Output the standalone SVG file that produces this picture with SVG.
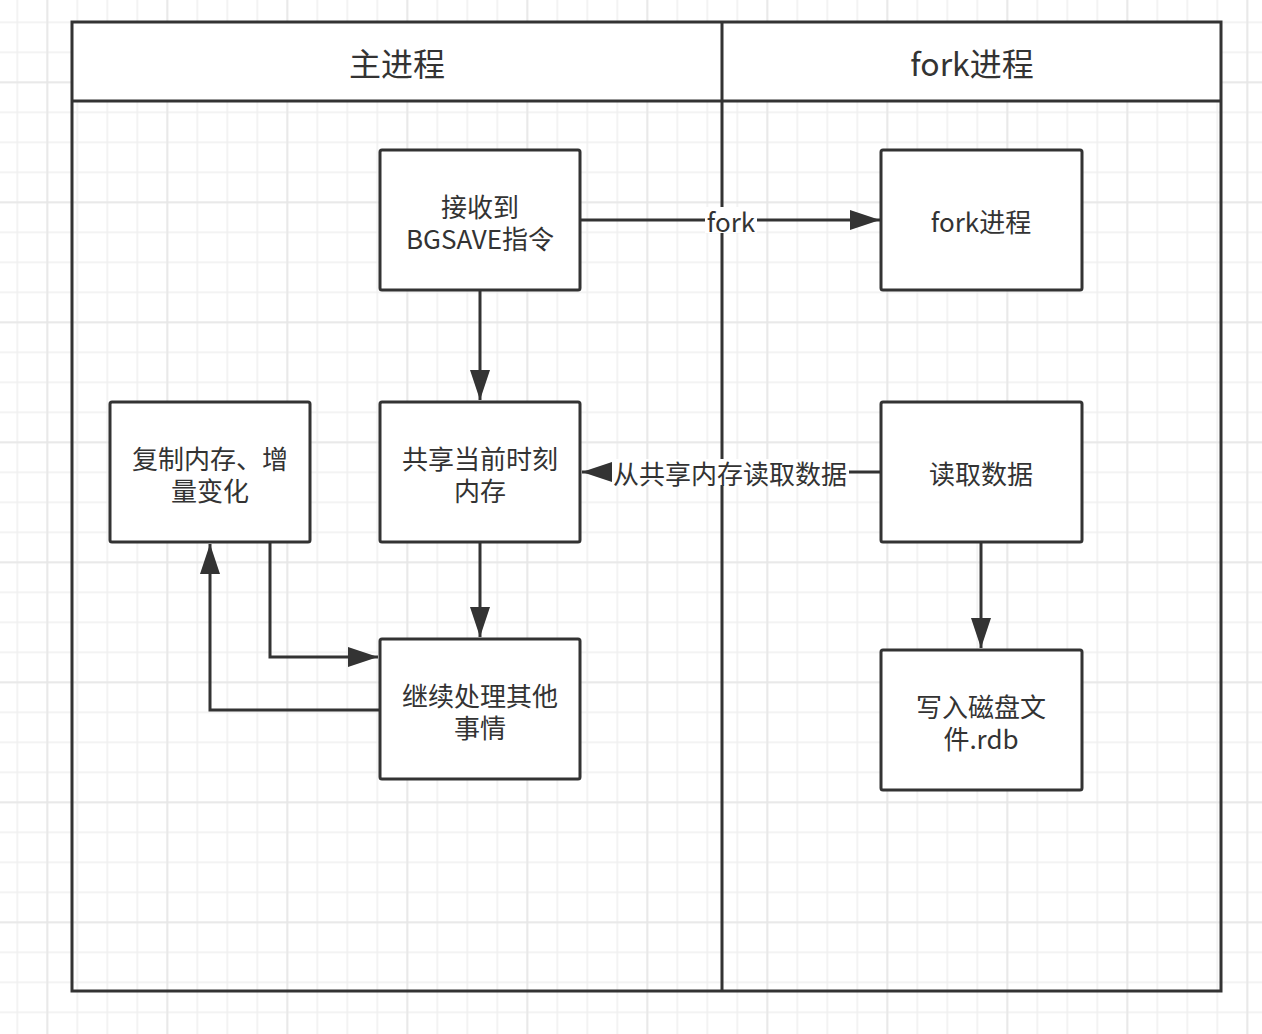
<svg xmlns="http://www.w3.org/2000/svg" width="1262" height="1034" viewBox="0 0 1262 1034">
<defs>
<pattern id="grid" x="16.5" y="21.5" width="30" height="30" patternUnits="userSpaceOnUse">
<path d="M0.5 0V30M0 0.5H30" stroke="#efefef" stroke-width="2" fill="none"/>
</pattern>
<pattern id="gridMajor" x="46.5" y="81.5" width="120" height="120" patternUnits="userSpaceOnUse">
<path d="M0.5 0V120M0 0.5H120" stroke="#e6e6e6" stroke-width="2" fill="none"/>
</pattern>
<marker id="arr" viewBox="0 0 30 20" refX="30" refY="10" markerWidth="30" markerHeight="20" markerUnits="userSpaceOnUse" orient="auto">
<path d="M0 0L30 10L0 20z" fill="#333"/>
</marker>
<style>
.box{fill:#fff;stroke:#333;stroke-width:3;}
.pool{fill:none;stroke:#333;stroke-width:3;}
.t{font-family:"Noto Sans CJK SC","Noto Sans",sans-serif;font-size:26px;fill:#333;text-anchor:middle;dominant-baseline:central;}
.h{font-size:32px;}
.c{fill:none;stroke:#333;stroke-width:3;}
</style>
</defs>
<rect width="1262" height="1034" fill="#fff"/>
<rect width="1262" height="1034" fill="url(#grid)"/>
<rect width="1262" height="1034" fill="url(#gridMajor)"/>

<g id="pool">
<rect x="72" y="22" width="1149" height="79" fill="#fff"/>
<rect class="pool" x="72" y="22" width="1149" height="969"/>
<line class="pool" x1="72" y1="101" x2="1221" y2="101"/>
<line class="pool" x1="722" y1="22" x2="722" y2="991"/>
<text class="t h" x="397" y="62">主进程</text>
<text class="t h" x="972" y="62">fork进程</text>
</g>

<g id="connectors">
<path class="c" d="M580 220H880" marker-end="url(#arr)"/>
<rect x="705" y="207" width="52" height="26" fill="#fff"/>
<text class="t" x="731" y="220">fork</text>
<path class="c" d="M480 290V400" marker-end="url(#arr)"/>
<path class="c" d="M480 542V637" marker-end="url(#arr)"/>
<path class="c" d="M880 472H582" marker-end="url(#arr)"/>
<rect x="612" y="459" width="237" height="26" fill="#fff"/>
<text class="t" x="730" y="472">从共享内存读取数据</text>
<path class="c" d="M270 542V657H378" marker-end="url(#arr)"/>
<path class="c" d="M380 710H210V544" marker-end="url(#arr)"/>
<path class="c" d="M981 542V648" marker-end="url(#arr)"/>
</g>

<g id="n-bgsave">
<rect class="box" x="380" y="150" width="200" height="140" rx="2"/>
<text class="t" x="480" y="205">接收到</text>
<text class="t" x="480" y="237">BGSAVE指令</text>
</g>
<g id="n-fork">
<rect class="box" x="881" y="150" width="201" height="140" rx="2"/>
<text class="t" x="981" y="220">fork进程</text>
</g>
<g id="n-share">
<rect class="box" x="380" y="402" width="200" height="140" rx="2"/>
<text class="t" x="480" y="457">共享当前时刻</text>
<text class="t" x="480" y="489">内存</text>
</g>
<g id="n-read">
<rect class="box" x="881" y="402" width="201" height="140" rx="2"/>
<text class="t" x="981" y="472">读取数据</text>
</g>
<g id="n-copy">
<rect class="box" x="110" y="402" width="200" height="140" rx="2"/>
<text class="t" x="210" y="457">复制内存、增</text>
<text class="t" x="210" y="489">量变化</text>
</g>
<g id="n-continue">
<rect class="box" x="380" y="639" width="200" height="140" rx="2"/>
<text class="t" x="480" y="694">继续处理其他</text>
<text class="t" x="480" y="726">事情</text>
</g>
<g id="n-write">
<rect class="box" x="881" y="650" width="201" height="140" rx="2"/>
<text class="t" x="981" y="705">写入磁盘文</text>
<text class="t" x="981" y="737">件.rdb</text>
</g>
</svg>
